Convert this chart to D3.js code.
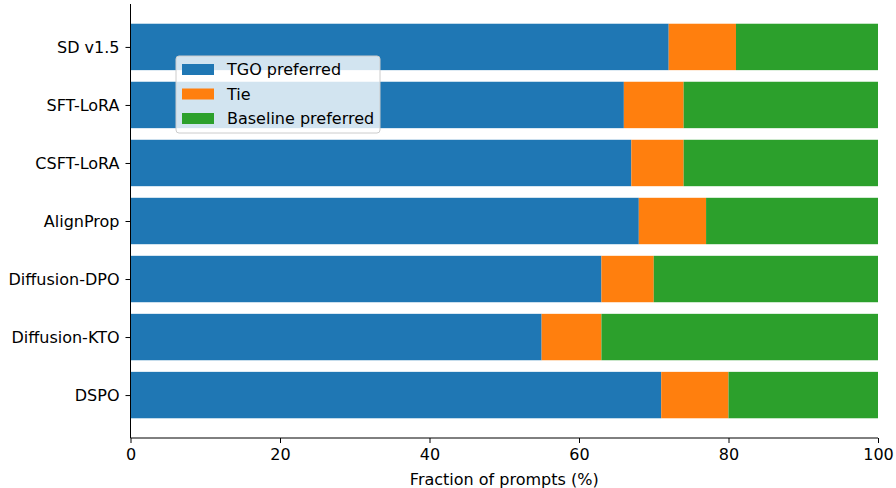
<!DOCTYPE html>
<html>
<head>
<meta charset="utf-8">
<script src="https://cdn.jsdelivr.net/npm/d3@7"></script>
<style>
  html, body { margin: 0; padding: 0; background: #fff; }
  svg text { font-family: "DejaVu Sans", sans-serif; }
</style>
</head>
<body>
<div id="chart"></div>
<script>
// Pairwise preference vs baselines (stacked horizontal bars)
const methods = ['SD v1.5', 'SFT-LoRA', 'CSFT-LoRA', 'AlignProp', 'Diffusion-DPO', 'Diffusion-KTO', 'DSPO'];
const tgoPreferred = [72, 66, 67, 68, 63, 55, 71];
const tie = [9, 8, 7, 9, 7, 8, 9];
const baselinePreferred = [19, 26, 26, 23, 30, 37, 20];
const xTicks = [0, 20, 40, 60, 80, 100];
const seriesNames = ['TGO preferred', 'Tie', 'Baseline preferred'];
const seriesColors = ['#1f77b4', '#ff7f0e', '#2ca02c'];

const W = 896, H = 488;
const margin = { top: 4, right: 18, bottom: 50, left: 130.5 };
const width = W - margin.left - margin.right;
const height = H - margin.top - margin.bottom;
const fontSize = '16px';

const svg = d3.select('#chart').append('svg')
    .attr('width', W)
    .attr('height', H);

const g = svg.append('g')
    .attr('transform', `translate(${margin.left},${margin.top})`);

// y in category units like matplotlib: index 0 at top, bars 0.8 high, 5% margins
const yScale = d3.scaleLinear()
    .domain([-0.74, methods.length - 1 + 0.74])
    .range([0, height]);

const xScale = d3.scaleLinear()
    .domain([0, 100])
    .range([0, width]);

const rows = methods.map((m, i) => ({
    name: m, i,
    vals: [tgoPreferred[i], tie[i], baselinePreferred[i]]
}));

rows.forEach(r => {
    let acc = 0;
    r.vals.forEach((v, k) => {
        g.append('rect')
            .attr('x', xScale(acc))
            .attr('y', yScale(r.i - 0.4))
            .attr('width', xScale(acc + v) - xScale(acc))
            .attr('height', yScale(r.i + 0.4) - yScale(r.i - 0.4))
            .attr('fill', seriesColors[k]);
        acc += v;
    });
});

// Axes
const xAxis = d3.axisBottom(xScale)
    .tickValues(xTicks)
    .tickSize(5)
    .tickPadding(6);

const xg = g.append('g')
    .attr('transform', `translate(0, ${height})`)
    .call(xAxis);
xg.select('.domain').attr('stroke', '#000').attr('stroke-width', 1)
    .attr('d', `M0,0H${width}`);
xg.selectAll('.tick line').attr('stroke', '#000');
xg.selectAll('.tick text').style('font-size', fontSize).attr('fill', '#000');

const yAxis = d3.axisLeft(yScale)
    .tickValues(methods.map((m, i) => i))
    .tickFormat(i => methods[i])
    .tickSize(5)
    .tickPadding(6);

const yg = g.append('g').call(yAxis);
yg.select('.domain').attr('stroke', '#000').attr('stroke-width', 1)
    .attr('d', `M0,0V${height}`);
yg.selectAll('.tick line').attr('stroke', '#000');
yg.selectAll('.tick text').style('font-size', fontSize).attr('fill', '#000');

// Axis label
g.append('text')
    .attr('x', width / 2)
    .attr('y', height + 47)
    .attr('text-anchor', 'middle')
    .style('font-size', fontSize)
    .attr('fill', '#000')
    .text('Fraction of prompts (%)');

// Legend
const legend = svg.append('g')
    .attr('transform', 'translate(176, 56)');

legend.append('rect')
    .attr('x', 0)
    .attr('y', 0)
    .attr('width', 204)
    .attr('height', 77)
    .attr('rx', 3)
    .attr('fill', 'rgba(255,255,255,0.8)')
    .attr('stroke', '#cccccc')
    .attr('stroke-width', 1);

seriesNames.forEach((name, k) => {
    const row = legend.append('g')
        .attr('transform', `translate(0, ${13 + k * 24.5})`);
    row.append('rect')
        .attr('x', 6)
        .attr('y', -5)
        .attr('width', 32)
        .attr('height', 11)
        .attr('fill', seriesColors[k]);
    row.append('text')
        .attr('x', 51)
        .attr('y', 6)
        .style('font-size', fontSize)
        .attr('fill', '#000')
        .text(name);
});
</script>
</body>
</html>
